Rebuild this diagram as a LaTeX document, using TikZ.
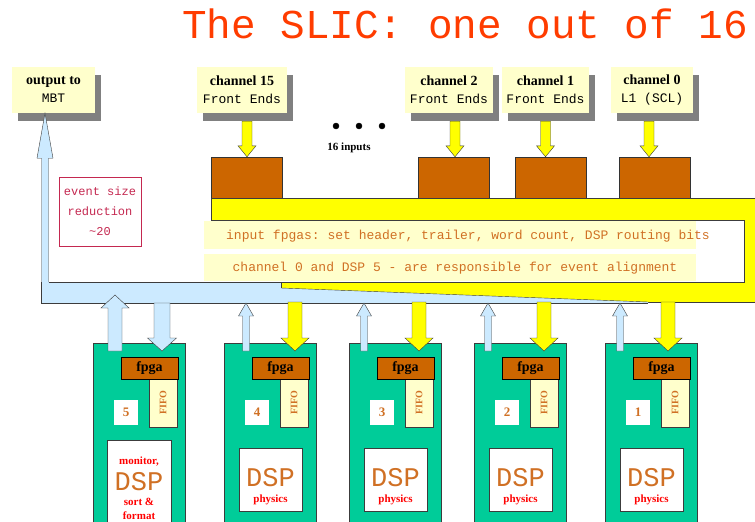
\documentclass[tikz,border=0pt]{standalone}
\usepackage{fontspec}
\setmainfont{Liberation Serif}
\setmonofont{Liberation Mono}
\usetikzlibrary{calc,shadows}

\definecolor{labyellow}{RGB}{255,255,204}
\definecolor{fpgabrown}{RGB}{204,102,0}
\definecolor{busyellow}{RGB}{255,255,0}
\definecolor{busblue}{RGB}{204,234,255}
\definecolor{boardgreen}{RGB}{0,204,153}
\definecolor{txtorange}{RGB}{208,112,36}
\definecolor{titlered}{RGB}{255,60,0}
\definecolor{crimson}{RGB}{196,40,80}
\definecolor{edgegray}{RGB}{60,60,60}

\newcommand{\setfs}[1]{\fontsize{#1}{#1}\selectfont}
% thick vertical arrow: style, tail, tip, half shaft, half head, head length
\newcommand{\blockarrow}[6]{%
  \path[#1] let \p1=(#2), \p2=(#3), \p3=($(\x1,\y2)!#6!(\p1)$) in
    (\x1-#4,\y1) -- (\x1-#4,\y3) -- (\x1-#5,\y3) -- (\x1,\y2)
    -- (\x1+#5,\y3) -- (\x1+#4,\y3) -- (\x1+#4,\y1) -- cycle;}

\tikzstyle{lab}=[fill=labyellow,minimum height=46pt,inner sep=0pt,align=center,
  drop shadow={shadow xshift=6pt,shadow yshift=-8pt,fill=black!50,opacity=1}]
\tikzstyle{infpga}=[fill=fpgabrown,draw=black!80,minimum width=71pt,minimum height=41pt]
\tikzstyle{yarrow}=[fill=busyellow,draw=edgegray]
\tikzstyle{barrow}=[fill=busblue,draw=edgegray]
\tikzstyle{board}=[fill=boardgreen,draw=edgegray,minimum width=92pt,minimum height=187pt,anchor=north west]
\tikzstyle{fpga}=[fill=fpgabrown,draw=black,minimum width=57pt,minimum height=22pt,inner sep=0pt,font=\bfseries\setfs{14}]
\tikzstyle{fifo}=[fill=labyellow,draw=edgegray,rotate=90,minimum width=48pt,minimum height=28pt,inner sep=0pt,text=txtorange,font=\bfseries\setfs{10}]
\tikzstyle{num}=[fill=white,minimum width=24pt,minimum height=25pt,inner sep=0pt,text=txtorange,font=\bfseries\setfs{13}]
\tikzstyle{dsp}=[fill=white,draw=edgegray,minimum width=63pt,minimum height=63pt]
\tikzstyle{dsptxt}=[inner sep=0pt,text=txtorange,font=\ttfamily\setfs{27}]
\tikzstyle{phys}=[inner sep=0pt,text=red,font=\bfseries\setfs{11}]
\tikzstyle{band}=[inner sep=0pt,text=txtorange,font=\ttfamily\setfs{13}]

\begin{document}
\begin{tikzpicture}[x=1pt,y=-1pt]
	\useasboundingbox (0,0) rectangle (755,522);
	\clip (0,0) rectangle (755,522);

	\node[text=titlered,font=\ttfamily\setfs{41}] (title) at (465,24) {The SLIC: one out of 16};

	% inputs and output
	\node[lab,minimum width=83pt] (outmbt) at (53.5,90) {{\bfseries\setfs{14}output to}\\[6pt]{\ttfamily\setfs{13}MBT}};
	\node[lab,minimum width=90pt] (ch15) at (242,90) {{\bfseries\setfs{14}channel 15}\\[6pt]{\ttfamily\setfs{13}Front Ends}};
	\node[lab,minimum width=88pt] (ch2) at (449,90) {{\bfseries\setfs{14}channel 2}\\[6pt]{\ttfamily\setfs{13}Front Ends}};
	\node[lab,minimum width=87pt] (ch1) at (545.5,90) {{\bfseries\setfs{14}channel 1}\\[6pt]{\ttfamily\setfs{13}Front Ends}};
	\node[lab,minimum width=82pt] (ch0) at (652,90) {{\bfseries\setfs{14}channel 0}\\[6pt]{\ttfamily\setfs{13}L1 (SCL)}};

	\draw[fill=black] (336,126) circle (3pt);
	\draw[fill=black] (359,126) circle (3pt);
	\draw[fill=black] (382,126) circle (3pt);
	\node[font=\bfseries\setfs{11}] (inputs) at (349,148) {16 inputs};

	\node[infpga] (in15) at (246.5,177.5) {};
	\node[infpga] (in2) at (453.5,177.5) {};
	\node[infpga] (in1) at (550.5,177.5) {};
	\node[infpga] (in0) at (654.5,177.5) {};

	% yellow bus
	\draw[yarrow] (211,198) -- (760,198) -- (760,302) -- (281,302) -- (281,282)
	  -- (744,282) -- (744,220) -- (211,220) -- cycle;

	\fill[labyellow] (204,221) rectangle (696,249);
	\fill[labyellow] (204,254) rectangle (696,281);
	\node[band] (txtfpga) at (468,236) {input fpgas: set header, trailer, word count, DSP routing bits};
	\node[band] (txtalign) at (455,268) {channel 0 and DSP 5 - are responsible for event alignment};

	\node[draw=crimson,text=crimson,minimum width=82pt,minimum height=69pt,align=center,
	  font=\ttfamily\fontsize{12}{20}\selectfont] (reduc) at (100,211.5) {event size\\reduction\\\textasciitilde20};

	% blue bus and output
	\coordinate (busout) at (45,303);
	\blockarrow{barrow}{busout}{busout |- outmbt.south}{3.5pt}{8pt}{45pt}
	\fill[busblue] (41.5,282) rectangle (281,303);
	\draw[edgegray] (48.5,282) -- (281,282) -- (281,303) -- (41.5,303) -- (41.5,282);
	\fill[busblue] (281,288) -- (648,302) -- (648,303) -- (281,303) -- cycle;
	\draw[edgegray] (281,288) -- (648,302);
	\draw[edgegray] (281,303) -- (648,303);

	\foreach \k/\off in {15/5,2/6,1/0,0/-3}
		\blockarrow{yarrow}{$(ch\k.south)+(\off,8)$}{in\k.north}{5pt}{9pt}{11pt};

	% DSP boards
	\node[board] (b5) at (93,343) {};
	\node[fifo] (q5) at (163,403) {FIFO};
	\node[fpga] (f5) at (149.5,368) {fpga};
	\node[num] (n5) at (126,412.5) {5};
	\node[dsp,minimum width=64pt,minimum height=90pt] (d5) at (139,485) {};
	\node[phys] (mon5) at (139,462) {monitor,};
	\node[dsptxt] (dt5) at (139,482) {DSP};
	\node[phys] (srt5) at (139,502) {sort \&};
	\node[phys] (fmt5) at (139,516) {format};
	\coordinate (ub5) at (115,295);
	\coordinate (db5) at (162,303);
	\blockarrow{barrow}{$(b5.north -| ub5)+(0,8)$}{ub5}{7pt}{14pt}{13pt}
	\blockarrow{barrow}{db5}{$(b5.north -| db5)+(0,8)$}{8pt}{14.5pt}{13pt}

	\foreach \k/\bx/\ux/\dx in {4/224/246/295,3/349/364/419,2/474/488/544,1/605/620/668}{
		\node[board] (b\k) at (\bx,343) {};
		\node[fifo] (q\k) at (\bx+70,403) {FIFO};
		\node[fpga] (f\k) at (\bx+56.5,368) {fpga};
		\node[num] (n\k) at (\bx+33,412.5) {\k};
		\node[dsp] (d\k) at (\bx+46.5,479.5) {};
		\node[dsptxt] (dt\k) at (\bx+46.5,478) {DSP};
		\node[phys] (ph\k) at (\bx+46.5,500) {physics};
		\coordinate (ub\k) at (\ux,303);
		\coordinate (db\k) at (\dx,302);
		\blockarrow{barrow}{$(b\k.north -| ub\k)+(0,8)$}{ub\k}{3.5pt}{7.5pt}{13pt}
		\blockarrow{yarrow}{db\k}{$(b\k.north -| db\k)+(0,8)$}{7pt}{14pt}{13pt}
	}
\end{tikzpicture}
\end{document}
